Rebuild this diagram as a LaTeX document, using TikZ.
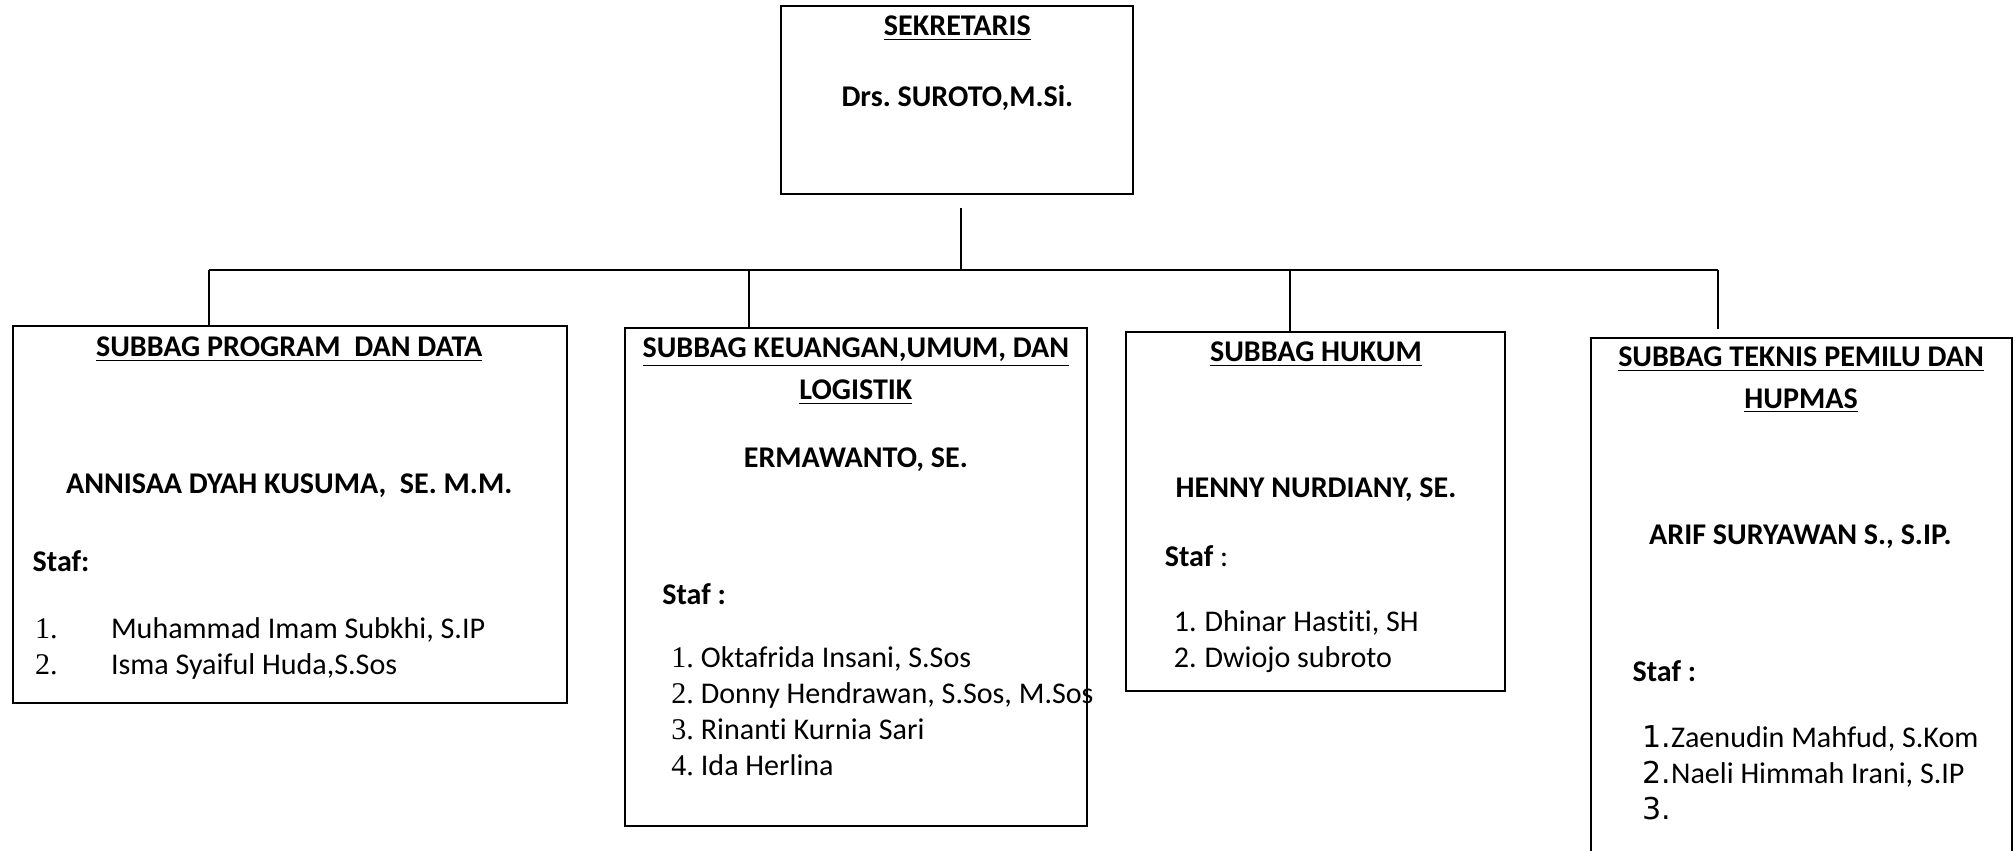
\documentclass[tikz,border=0pt]{standalone}
\usepackage{fontspec}
\setmainfont[Ligatures=NoCommon]{Carlito}
\newfontfamily\serifnum{Liberation Serif}
\newfontfamily\widenum{DejaVu Sans}
\usetikzlibrary{positioning}
\tikzstyle{unit} = [rectangle, draw=black, line width=0.8pt, inner sep=0pt]
\tikzstyle{title} = [font=\bfseries, align=center, inner sep=0pt]
\tikzstyle{staf} = [anchor=west, inner sep=0pt, align=left]
\tikzstyle{link} = [line width=0.8pt]
\frenchspacing

\begin{document}
\begin{tikzpicture}[x=0.5pt, y=-0.5pt]
\fontsize{11.7}{14}\selectfont
\useasboundingbox (0,0) rectangle (1568,662);

% sekretaris
\node[unit, minimum width=137pt, minimum height=73pt] (sek) at (745,78) {};
\node[title] (sek-t) at (745,22) {\underline{SEKRETARIS}};
\node[title] (sek-n) at (745,76) {Drs. SUROTO,M.Si.};

% subbag boxes
\node[unit, minimum width=215.5pt, minimum height=146.5pt] (prog) at (225.5,400.5) {};
\node[unit, minimum width=180pt, minimum height=194pt] (keu) at (666,449) {};
\node[unit, minimum width=147.5pt, minimum height=140pt] (hukum) at (1023.5,398) {};
\node[unit, minimum width=164pt, minimum height=218.5pt] (teknis) at (1402,481.5) {};

% program dan data
\node[title] (prog-t) at (225,272) {\underline{SUBBAG PROGRAM\ \ DAN DATA}};
\node[title] (prog-n) at (225,378) {ANNISAA DYAH KUSUMA,\ \ SE. M.M.};
\node[staf] (prog-s) at (25,437) {\textbf{Staf:}};
\node[staf] (prog-l) at (27,505) {\begin{tabular}{@{}p{29.5pt}@{}l@{}}
  \serifnum 1. & Muhammad Imam Subkhi, S.IP\\
  \serifnum 2. & Isma Syaiful Huda,S.Sos
\end{tabular}};

% keuangan
\node[title] (keu-t) at (666,289) {\underline{SUBBAG KEUANGAN,UMUM, DAN}\\[2.5pt]\underline{LOGISTIK}};
\node[title] (keu-n) at (666,358) {ERMAWANTO, SE.};
\node[staf] (keu-s) at (515,462) {\textbf{Staf :}};
\node[staf] (keu-l) at (522,556) {\begin{tabular}{@{}p{11.5pt}@{}l@{}}
  \serifnum 1. & Oktafrida Insani, S.Sos\\
  \serifnum 2. & Donny Hendrawan, S.Sos, M.Sos\\
  \serifnum 3. & Rinanti Kurnia Sari\\
  \serifnum 4. & Ida Herlina
\end{tabular}};

% hukum
\node[title] (hukum-t) at (1024,276) {\underline{SUBBAG HUKUM}};
\node[title] (hukum-n) at (1024,381) {HENNY NURDIANY, SE.};
\node[staf] (hukum-s) at (906,433) {\textbf{Staf} :};
\node[staf] (hukum-l) at (913,499.5) {\begin{tabular}{@{}p{12pt}@{}l@{}}
  1. & Dhinar Hastiti, SH\\
  2. & Dwiojo subroto
\end{tabular}};

% teknis pemilu
\node[title] (teknis-t) at (1401.5,296) {\underline{SUBBAG TEKNIS PEMILU DAN}\\[2pt]\underline{HUPMAS}};
\node[title] (teknis-n) at (1401,418) {ARIF SURYAWAN S., S.IP.};
\node[staf] (teknis-s) at (1270,522) {\textbf{Staf :}};
\node[staf] (teknis-l) at (1278,604) {\begin{tabular}{@{}p{11pt}@{}l@{}}
  \widenum 1. & Zaenudin Mahfud, S.Kom\\
  \widenum 2. & Naeli Himmah Irani, S.IP\\
  \widenum 3. &
\end{tabular}};

% lines
\coordinate (hub) at (748,162);
\coordinate (bus) at (748,210);
\coordinate (bus-l) at (163,210);
\coordinate (bus-r) at (1337,210);
\coordinate (drop-keu) at (583,210);
\coordinate (drop-hukum) at (1004,210);
\coordinate (end-teknis) at (1337,256);

\draw[link] (hub) -- (bus);
\draw[link] (bus-l) -- (bus-r);
\draw[link] (bus-l) -- (bus-l |- prog.north);
\draw[link] (drop-keu) -- (drop-keu |- keu.north);
\draw[link] (drop-hukum) -- (drop-hukum |- hukum.north);
\draw[link] (bus-r) -- (end-teknis);
\end{tikzpicture}
\end{document}
